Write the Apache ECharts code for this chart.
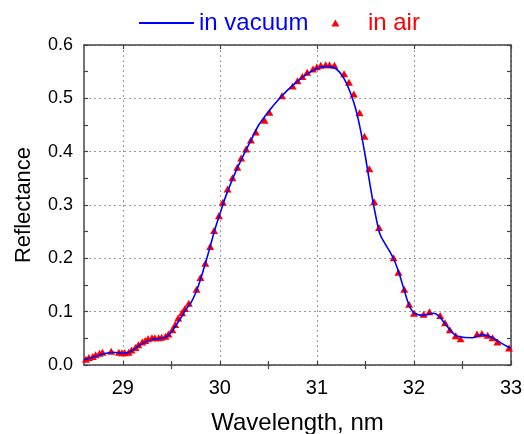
<!DOCTYPE html>
<html>
<head>
<meta charset="UTF-8">
<title>Reflectance</title>
<script src="https://cdn.jsdelivr.net/npm/echarts@6/dist/echarts.min.js"></script>
<style>
  html, body { margin: 0; padding: 0; background: #fff; }
  #chart { width: 524px; height: 434px; }
</style>
</head>
<body>
<div id="chart"></div>
<script>
// blue line: measured in vacuum
const vacuumX = [28.6, 28.7, 28.8, 28.9, 29.0, 29.05, 29.1, 29.2, 29.3, 29.4, 29.45, 29.5, 29.55, 29.6, 29.65,
  29.7, 29.75, 29.8, 29.85, 29.9, 29.95, 30.0, 30.05, 30.1, 30.15, 30.2, 30.25, 30.3, 30.35, 30.4, 30.5,
  30.6, 30.7, 30.8, 30.9, 31.0, 31.05, 31.1, 31.15, 31.2, 31.25, 31.3, 31.35, 31.4, 31.45, 31.5, 31.55,
  31.6, 31.65, 31.7, 31.75, 31.8, 31.85, 31.9, 31.95, 32.0, 32.1, 32.2, 32.25, 32.3, 32.4, 32.45, 32.6,
  32.7, 32.8, 32.9, 33.0];
const vacuumY = [0.010, 0.015, 0.021, 0.024, 0.022, 0.023, 0.028, 0.040, 0.048, 0.050, 0.053, 0.062, 0.075, 0.089, 0.104,
  0.116, 0.135, 0.160, 0.190, 0.222, 0.255, 0.283, 0.311, 0.335, 0.357, 0.377, 0.396, 0.414, 0.432, 0.450, 0.475,
  0.497, 0.516, 0.532, 0.546, 0.556, 0.559, 0.560, 0.559, 0.555, 0.545, 0.530, 0.508, 0.480, 0.440, 0.390, 0.335,
  0.285, 0.245, 0.228, 0.213, 0.195, 0.170, 0.140, 0.112, 0.098, 0.093, 0.097, 0.093, 0.082, 0.060, 0.054, 0.051,
  0.057, 0.052, 0.041, 0.031];

// red triangles: measured in air
const airX = [28.62, 28.65, 28.69, 28.72, 28.76, 28.79, 28.88, 28.96, 28.99, 29.02, 29.06, 29.09, 29.13, 29.16,
  29.20, 29.23, 29.26, 29.30, 29.33, 29.37, 29.40, 29.44, 29.47, 29.51, 29.54, 29.57, 29.61, 29.64, 29.68,
  29.76, 29.80, 29.85, 29.90, 29.94, 29.99, 30.03, 30.08, 30.13, 30.18, 30.22, 30.27, 30.32, 30.37, 30.46,
  30.51, 30.64, 30.75, 30.80, 30.85, 30.90, 30.96, 31.00, 31.04, 31.09, 31.13, 31.18, 31.28, 31.33, 31.38,
  31.44, 31.49, 31.54, 31.59, 31.64, 31.79, 31.84, 31.90, 31.95, 32.00, 32.10, 32.16, 32.27, 32.32, 32.37,
  32.43, 32.48, 32.65, 32.70, 32.76, 32.81, 32.86, 32.98];
const airY = [0.011, 0.014, 0.016, 0.019, 0.022, 0.024, 0.026, 0.024, 0.023, 0.023, 0.024, 0.028, 0.033, 0.038,
  0.043, 0.046, 0.049, 0.051, 0.051, 0.051, 0.052, 0.054, 0.058, 0.066, 0.076, 0.088, 0.098, 0.106, 0.116,
  0.142, 0.164, 0.191, 0.222, 0.252, 0.280, 0.305, 0.330, 0.351, 0.371, 0.388, 0.405, 0.422, 0.437, 0.459,
  0.474, 0.505, 0.523, 0.533, 0.541, 0.549, 0.555, 0.559, 0.562, 0.563, 0.563, 0.562, 0.546, 0.530, 0.508,
  0.473, 0.429, 0.368, 0.306, 0.258, 0.201, 0.174, 0.142, 0.114, 0.097, 0.095, 0.100, 0.093, 0.079, 0.066,
  0.055, 0.049, 0.058, 0.059, 0.056, 0.051, 0.043, 0.032];

const xMajor = [29, 30, 31, 32, 33];
const xMinor = [29.5, 30.5, 31.5, 32.5];

const font = 'Liberation Sans, Arial, sans-serif';
const axisColor = '#444';
const gridLine = { show: true, lineStyle: { color: '#999', type: [2, 3], width: 1 } };

function xAxisDef(position, ticks, opts) {
    return Object.assign({
        type: 'value', position: position, min: 28.6, max: 33,
        axisLine: { show: true, onZero: false, lineStyle: { color: axisColor, width: 1.5 } },
        axisTick: { show: true, inside: true, length: 4, customValues: ticks, lineStyle: { color: axisColor, width: 1.2 } },
        axisLabel: { show: false },
        splitLine: { show: false }
    }, opts || {});
}

function yAxisDef(position, opts) {
    return Object.assign({
        type: 'value', position: position, min: 0, max: 0.6, interval: 0.1,
        axisLine: { show: true, onZero: false, lineStyle: { color: axisColor, width: 1.5 } },
        axisTick: { show: true, inside: true, length: 4, lineStyle: { color: axisColor, width: 1.2 } },
        minorTick: { show: true, splitNumber: 2, length: 4, lineStyle: { color: axisColor, width: 1.2 } },
        axisLabel: { show: false },
        splitLine: { show: false }
    }, opts || {});
}

const chart = echarts.init(document.getElementById('chart'));
chart.setOption({
    animation: false,
    backgroundColor: '#fff',
    textStyle: { fontFamily: font },
    legend: {
        top: 6, left: 133,
        itemWidth: 55, itemHeight: 7, itemGap: 23,
        textStyle: { fontSize: 24, fontFamily: font },
        data: [
            { name: 'in vacuum', itemStyle: { opacity: 0 }, textStyle: { color: '#0000ff' } },
            { name: 'in air', icon: 'path://M4,0 L8,7 L0,7 Z', textStyle: { color: '#ff0000' } }
        ]
    },
    grid: { left: 84, right: 13, top: 45, bottom: 69, outerBoundsMode: 'none' },
    xAxis: [
        xAxisDef('bottom', xMajor, {
            name: 'Wavelength, nm', nameLocation: 'middle', nameGap: 46,
            nameTextStyle: { fontSize: 24, color: '#000', fontFamily: font },
            axisLabel: { show: true, customValues: xMajor, fontSize: 20, color: '#000', margin: 13, fontFamily: font },
            splitLine: gridLine
        }),
        xAxisDef('bottom', xMinor, { axisLine: { show: false } }),
        xAxisDef('top', xMajor),
        xAxisDef('top', xMinor, { axisLine: { show: false } })
    ],
    yAxis: [
        yAxisDef('left', {
            name: 'Reflectance', nameLocation: 'middle', nameGap: 49,
            nameTextStyle: { fontSize: 22, color: '#000', fontFamily: font },
            axisLabel: { show: true, fontSize: 18, color: '#000', margin: 11, fontFamily: font,
                formatter: v => v.toFixed(1) },
            splitLine: gridLine
        }),
        yAxisDef('right')
    ],
    series: [
        {
            name: 'in vacuum', type: 'line', xAxisIndex: 0, yAxisIndex: 0,
            data: vacuumX.map((x, i) => [x, vacuumY[i]]),
            symbol: 'none', smooth: 0.3, z: 3,
            lineStyle: { color: '#0000ff', width: 1.6 },
            itemStyle: { color: '#0000ff' }
        },
        {
            name: 'in air', type: 'scatter', xAxisIndex: 0, yAxisIndex: 0,
            data: airX.map((x, i) => [x, airY[i]]),
            symbol: 'triangle', symbolSize: [8, 7], z: 2,
            itemStyle: { color: '#ff0000', opacity: 1 }
        }
    ]
});
</script>
</body>
</html>
